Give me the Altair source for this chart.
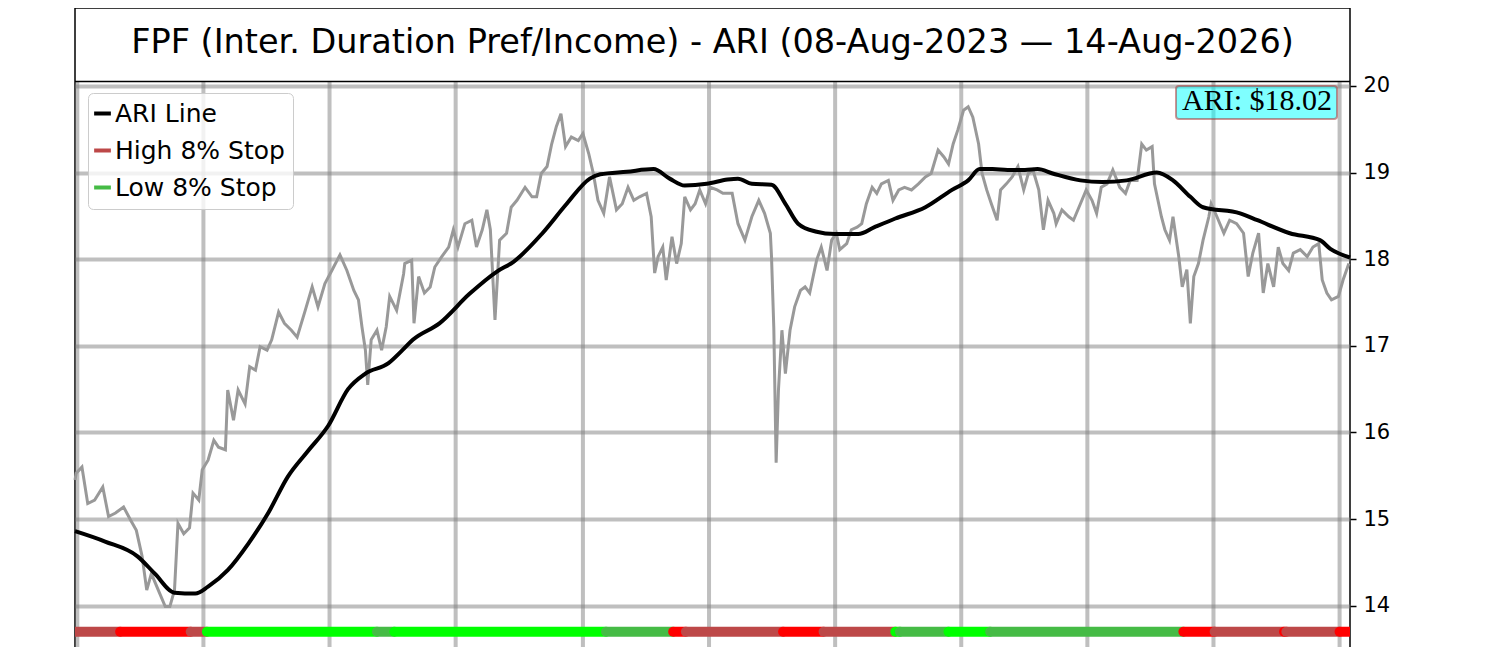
import altair as alt
import pandas as pd

START = "2023-08-08"
TITLE = "FPF (Inter. Duration Pref/Income) - ARI (08-Aug-2023 \u2014 14-Aug-2026)"
LAST_LABEL = "ARI: $18.02"

# price (gray) : day offset from START, value
price_day = [
    0, 1, 6, 11, 17, 24, 29, 35, 42, 48,
    53, 58, 62, 66, 72, 78, 82, 86, 89, 94,
    99, 102, 107, 110, 115, 120, 124, 130, 132, 137,
    141, 147, 151, 156, 160, 166, 170, 176, 181, 187,
    192, 199, 205, 210, 216, 222, 229, 235, 241, 245,
    248, 251, 253, 256, 261, 265, 269, 272, 278, 284,
    285, 291, 293, 297, 302, 307, 311, 317, 323, 327,
    331, 337, 343, 347, 352, 356, 359, 363, 367, 373,
    377, 382, 389, 395, 399, 403, 408, 412, 416, 420,
    424, 429, 435, 439, 444, 448, 452, 457, 462, 468,
    473, 478, 483, 488, 494, 498, 501, 504, 508, 511,
    516, 520, 524, 527, 532, 536, 540, 545, 549, 555,
    560, 568, 573, 579, 585, 591, 596, 601, 602, 604,
    606, 608, 611, 614, 618, 622, 627, 631, 635, 638,
    641, 645, 650, 654, 658, 661, 667, 671, 676, 680,
    684, 689, 693, 697, 703, 707, 712, 717, 723, 729,
    735, 740, 746, 751, 755, 759, 763, 768, 772, 776,
    781, 784, 788, 792, 797, 800, 805, 810, 815, 820,
    824, 828, 833, 837, 841, 846, 848, 853, 859, 863,
    869, 874, 879, 883, 887, 892, 897, 903, 908, 912,
    918, 922, 926, 931, 933, 936, 939, 942, 946, 949,
    954, 957, 961, 964, 967, 971, 975, 980, 982, 987,
    993, 998, 1004, 1010, 1014, 1018, 1023, 1027, 1031, 1036,
    1040, 1044, 1049, 1053, 1059, 1065, 1070, 1075, 1078, 1082,
    1086, 1092, 1096, 1101,
]
price_val = [
    15.45, 15.53, 15.6, 15.18, 15.22, 15.37, 15.03, 15.07, 15.14, 14.99,
    14.87, 14.57, 14.18, 14.37, 14.18, 13.99, 13.99, 14.18, 14.95, 14.83,
    14.9, 15.3, 15.22, 15.57, 15.68, 15.91, 15.83, 15.8, 16.49, 16.14,
    16.49, 16.33, 16.76, 16.72, 16.99, 16.95, 17.07, 17.39, 17.26, 17.18,
    17.1, 17.41, 17.68, 17.45, 17.72, 17.87, 18.05, 17.87, 17.64, 17.53,
    17.22, 16.95, 16.55, 17.07, 17.18, 16.95, 17.22, 17.57, 17.41, 17.83,
    17.95, 17.99, 17.26, 17.8, 17.61, 17.68, 17.91, 18.03, 18.14, 18.34,
    18.14, 18.41, 18.45, 18.14, 18.34, 18.57, 18.34, 17.3, 18.22, 18.3,
    18.6, 18.68, 18.83, 18.72, 18.72, 18.99, 19.07, 19.33, 19.53, 19.68,
    19.3, 19.41, 19.37, 19.45, 19.22, 18.99, 18.68, 18.53, 18.95, 18.57,
    18.64, 18.83, 18.68, 18.72, 18.76, 18.49, 17.84, 18.03, 18.14, 17.76,
    18.26, 17.95, 18.18, 18.72, 18.57, 18.64, 18.8, 18.64, 18.83, 18.8,
    18.76, 18.76, 18.41, 18.22, 18.49, 18.68, 18.53, 18.3, 18.03, 17.2,
    15.65, 16.49, 17.18, 16.68, 17.18, 17.45, 17.64, 17.68, 17.61, 17.8,
    17.99, 18.14, 17.87, 18.22, 18.3, 18.11, 18.18, 18.34, 18.37, 18.41,
    18.64, 18.83, 18.76, 18.87, 18.91, 18.68, 18.8, 18.83, 18.8, 18.87,
    18.95, 18.99, 19.26, 19.18, 19.1, 19.33, 19.49, 19.72, 19.76, 19.64,
    19.33, 18.99, 18.8, 18.64, 18.45, 18.8, 18.87, 18.95, 19.07, 18.8,
    18.99, 19.03, 18.8, 18.34, 18.68, 18.53, 18.41, 18.57, 18.49, 18.45,
    18.64, 18.8, 18.68, 18.53, 18.83, 18.87, 19.03, 18.83, 18.76, 18.91,
    18.91, 19.33, 19.26, 19.3, 18.87, 18.68, 18.49, 18.34, 18.22, 18.49,
    18.03, 17.68, 17.88, 17.26, 17.8, 17.95, 18.22, 18.49, 18.64, 18.49,
    18.3, 18.45, 18.41, 18.3, 17.8, 18.07, 18.3, 17.61, 17.95, 17.68,
    18.14, 17.95, 17.87, 18.07, 18.11, 18.03, 18.14, 18.18, 17.76, 17.61,
    17.53, 17.57, 17.76, 17.95,
]

# ARI line (black)
ari_day = [0, 26, 54, 69, 86, 104, 115, 132, 150, 167,
           184, 201, 219, 236, 251, 271, 283, 292, 315, 341,
           365, 379, 404, 425, 445, 454, 477, 500, 514, 527,
           546, 564, 573, 585, 602, 614, 625, 640, 657, 677,
           691, 709, 735, 758, 772, 782, 793, 806, 821, 832,
           845, 869, 888, 909, 935, 949, 964, 975, 1007, 1022,
           1050, 1076, 1085, 1102]
ari_val = [14.86, 14.74, 14.57, 14.37, 14.15, 14.14, 14.22, 14.41, 14.72, 15.07,
           15.49, 15.78, 16.08, 16.5, 16.68, 16.8, 16.95, 17.07, 17.26, 17.6,
           17.86, 17.97, 18.3, 18.64, 18.93, 18.98, 19.01, 19.04, 18.93, 18.85,
           18.87, 18.92, 18.93, 18.87, 18.86, 18.64, 18.41, 18.32, 18.29, 18.29,
           18.37, 18.47, 18.6, 18.8, 18.91, 19.04, 19.04, 19.03, 19.03, 19.04,
           18.99, 18.91, 18.89, 18.91, 19.0, 18.91, 18.72, 18.6, 18.53, 18.45,
           18.3, 18.22, 18.12, 18.02]

# stop band segments
band_level = 13.7
seg_start = [0, 39, 100, 114, 261, 276, 459, 517, 528, 612,
             647, 709, 713, 755, 791, 958, 985, 1045, 1047, 1093]
seg_end = [39, 100, 114, 261, 276, 459, 517, 528, 612, 647,
           709, 713, 755, 791, 958, 985, 1045, 1047, 1093, 1102]
seg_kind = ["High 8% Stop", "High trigger", "High 8% Stop", "Low trigger", "Low 8% Stop",
            "Low trigger", "Low 8% Stop", "High trigger", "High 8% Stop", "High trigger",
            "High 8% Stop", "Low trigger", "Low 8% Stop", "Low trigger", "Low 8% Stop",
            "High trigger", "High 8% Stop", "High trigger", "High 8% Stop", "High trigger"]

grid_day = [2, 111, 220, 329, 439, 548, 657, 766, 875, 984, 1093]
y_ticks = [14, 15, 16, 17, 18, 19, 20]

legend_names = ["ARI Line", "High 8% Stop", "Low 8% Stop"]
color_domain = ["ARI Line", "High 8% Stop", "Low 8% Stop", "High trigger", "Low trigger"]
color_range = ["#000000", "#bd4848", "#45bb45", "#ff0000", "#00ff00"]

assert len(price_day) == len(price_val)
assert len(ari_day) == len(ari_val)

base = pd.Timestamp(START)


def to_dates(days):
    return [(base + pd.Timedelta(days=d)).strftime("%Y-%m-%d") for d in days]


price_df = pd.DataFrame({"date": to_dates(price_day), "value": price_val})
ari_df = pd.DataFrame({"date": to_dates(ari_day), "value": ari_val})
band_df = pd.DataFrame({"date": to_dates(seg_start), "end": to_dates(seg_end),
                        "value": [band_level] * len(seg_kind), "kind": seg_kind})
grid_df = pd.DataFrame({"date": to_dates(grid_day)})
title_df = pd.DataFrame({"label": [TITLE]})
last_df = pd.DataFrame({"label": [LAST_LABEL]})

W, H = 1275, 654
x_scale = alt.Scale(domain=[alt.DateTime(year=2023, month=8, date=8, utc=True),
                            alt.DateTime(year=2026, month=8, date=14, utc=True)])
x_enc = alt.X("date:T", scale=x_scale, axis=None)
y_enc = alt.Y("value:Q",
              scale=alt.Scale(domain=[13.35, 20.9], nice=False, zero=False),
              axis=alt.Axis(orient="right", values=y_ticks, title=None, format="d",
                            grid=True, gridColor="#808080", gridOpacity=0.5, gridWidth=4,
                            domain=False, tickColor="black", tickWidth=1.5, tickSize=6,
                            labelFont="DejaVu Sans", labelFontSize=21, labelColor="black",
                            labelPadding=7))

color_scale = alt.Scale(domain=color_domain, range=color_range)

vgrid = alt.Chart(grid_df).mark_rule(color="#808080", opacity=0.5, strokeWidth=4).encode(
    x=x_enc, y=alt.value(73.5), y2=alt.value(H))

price = alt.Chart(price_df).mark_line(color="#999999", strokeWidth=3).encode(
    x=x_enc, y=y_enc)

ari = alt.Chart(ari_df).mark_line(strokeWidth=4, interpolate="monotone").encode(
    x=x_enc, y=y_enc, color=alt.datum("ARI Line"))

band = alt.Chart(band_df).mark_rule(strokeWidth=10, strokeCap="round", clip=True).encode(
    x=x_enc, x2="end:T", y=y_enc,
    color=alt.Color("kind:N", scale=color_scale,
                    legend=alt.Legend(orient="none", legendX=13, legendY=85, title=None,
                                      values=legend_names, symbolType="stroke",
                                      symbolSize=280, symbolStrokeWidth=4,
                                      symbolOffset=-6,
                                      labelFont="DejaVu Sans", labelFontSize=25,
                                      labelColor="black", labelOffset=0, labelLimit=400,
                                      rowPadding=11,
                                      padding=8, fillColor="rgba(255,255,255,0.8)",
                                      strokeColor="#cccccc", cornerRadius=5)))

box = alt.Chart(last_df).mark_rect(fill="#00ffff", fillOpacity=0.5, stroke="#a52a2a",
                                   strokeOpacity=0.5, strokeWidth=2, cornerRadius=3).encode(
    x=alt.value(1101), x2=alt.value(1262), y=alt.value(78), y2=alt.value(111))

box_text = alt.Chart(last_df).mark_text(font="Liberation Serif", fontSize=30, color="black",
                                        align="center", baseline="alphabetic").encode(
    x=alt.value(1182), y=alt.value(102), text="label:N")

title = alt.Chart(title_df).mark_text(font="DejaVu Sans", fontSize=33.5, color="black",
                                      align="center", baseline="alphabetic").encode(
    x=alt.value(W / 2), y=alt.value(45), text="label:N")

sep = alt.Chart(title_df).mark_rule(color="black", strokeWidth=1.5).encode(
    x=alt.value(0), x2=alt.value(W), y=alt.value(73.5))

chart = alt.layer(vgrid, price, ari, band, box, box_text, title, sep).properties(
    width=W, height=H,
    padding={"left": 59, "top": 0, "right": 10, "bottom": 0},
).configure_view(stroke="black", strokeWidth=1.5)

chart.save("out.html", embed_options={"renderer": "svg", "actions": False})
